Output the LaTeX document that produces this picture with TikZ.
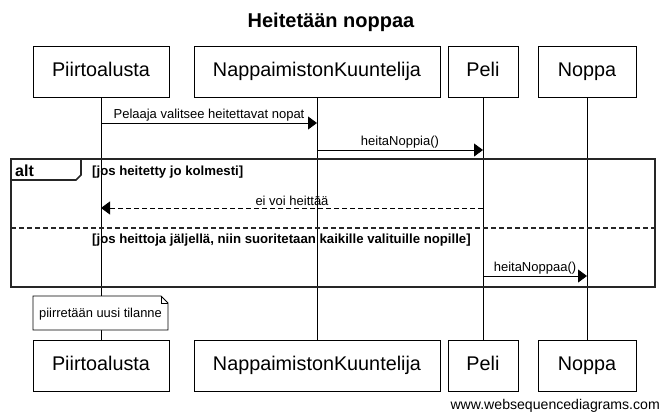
\documentclass[tikz,border=0pt]{standalone}
\usepackage{fontspec}
\setmainfont{Liberation Sans}
\usetikzlibrary{arrows.meta}
\tikzset{>={Triangle[length=9pt,width=13pt]}}
\tikzset{
  actor/.style={draw,line width=0.8pt,minimum height=51pt,inner sep=0pt,text height=14.5pt,text depth=4pt,font=\fontsize{19.8}{22}\selectfont},
  msglbl/.style={font=\fontsize{13}{15}\selectfont,above,inner sep=1.5pt},
  guard/.style={font=\bfseries\fontsize{13.2}{15}\selectfont,anchor=base west,inner sep=0pt},
  lifeline/.style={line width=0.8pt},
  msg/.style={->,line width=0.8pt},
}
\begin{document}
\begin{tikzpicture}[x=1pt,y=-1pt]
  \useasboundingbox (0,0) rectangle (662,413);
  \node[font=\bfseries\fontsize{20}{24}\selectfont] (title) at (331,22) {Heitetään noppaa};

  % participants, top and bottom
  \node[actor,minimum width=136pt] (pA) at (101,71.5) {Piirtoalusta};
  \node[actor,minimum width=246pt] (nA) at (317,71.5) {NappaimistonKuuntelija};
  \node[actor,minimum width=70pt]  (peA) at (483,71.5) {Peli};
  \node[actor,minimum width=98pt]  (noA) at (587,71.5) {Noppa};
  \node[actor,minimum width=136pt] (pB) at (101,365.5) {Piirtoalusta};
  \node[actor,minimum width=246pt] (nB) at (317,365.5) {NappaimistonKuuntelija};
  \node[actor,minimum width=70pt]  (peB) at (483,365.5) {Peli};
  \node[actor,minimum width=98pt]  (noB) at (587,365.5) {Noppa};

  \draw[lifeline] (pA) -- (pB);
  \draw[lifeline] (nA) -- (nB);
  \draw[lifeline] (peA) -- (peB);
  \draw[lifeline] (noA) -- (noB);

  % message points on the lifelines
  \coordinate (p1) at (101,123);  \coordinate (n1) at (317,123);
  \coordinate (n2) at (317,150);  \coordinate (pe2) at (483,150);
  \coordinate (pe3) at (483,208); \coordinate (p3) at (101,208);
  \coordinate (pe4) at (483,276); \coordinate (no4) at (587,276);

  \draw[msg] (p1) -- (n1) node[msglbl,midway] {Pelaaja valitsee heitettavat nopat};
  \draw[msg] (n2) -- (pe2) node[msglbl,midway] {heitaNoppia()};

  % alt frame
  \coordinate (fNW) at (11,159);
  \coordinate (fSE) at (655,287);
  \draw[line width=1.6pt,draw=black!85] (fNW) rectangle (fSE);
  \draw[line width=1.6pt,draw=black!85] (11,180) -- (76,180) -- (81,175) -- (81,159);
  \node[font=\bfseries\fontsize{16}{19}\selectfont,anchor=base west,inner sep=0pt] (alt) at (15,176.5) {alt};
  \node[guard] (g1) at (92,175) {[jos heitetty jo kolmesti]};
  \draw[msg,dashed,dash pattern=on 5pt off 3pt] (pe3) -- (p3) node[msglbl,midway] {ei voi heittää};
  \draw[line width=1.6pt,draw=black!85,dash pattern=on 5pt off 3pt] (11,228) -- (655,228);
  \node[guard] (g2) at (92,243) {[jos heittoja jäljellä, niin suoritetaan kaikille valituille nopille]};
  \draw[msg] (pe4) -- (no4) node[msglbl,midway] {heitaNoppaa()};

  % note
  \draw[line width=0.8pt,fill=white] (33,296) -- (161,296) -- (168,303) -- (168,330) -- (33,330) -- cycle;
  \draw[line width=0.6pt] (161,296) -- (161,303) -- (168,303);
  \node[font=\fontsize{12.9}{15}\selectfont] (note) at (100.5,314) {piirretään uusi tilanne};

  \node[font=\fontsize{14.1}{16}\selectfont,anchor=base east,inner sep=0pt] (web) at (660,409) {www.websequencediagrams.com};
\end{tikzpicture}
\end{document}
